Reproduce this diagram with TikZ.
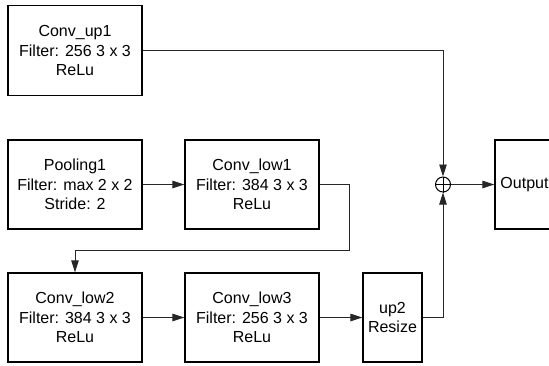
\documentclass[tikz,border=0pt]{standalone}
\usepackage{fontspec}
\setmainfont{Liberation Sans}
\usetikzlibrary{arrows.meta}
\tikzset{
  blk/.style={draw=black, line width=1.3pt, fill=white, align=center, inner sep=0pt,
    font=\fontsize{16}{19.5}\selectfont},
  conn/.style={draw=black!85, line width=0.9pt},
  arr/.style={conn, -{Triangle[length=12pt,width=7.5pt]}},
}
\begin{document}
\begin{tikzpicture}[x=1pt,y=-1pt]
\useasboundingbox (0,0) rectangle (549,365);
\clip (0,0) rectangle (549,365);
\node[blk, minimum width=134pt, minimum height=90pt] (up1) at (75,50.5) {Conv\_up1\\Filter: 256 3 x 3\\ReLu};
\node[blk, minimum width=134pt, minimum height=89pt] (pool) at (75,184.5) {Pooling1\\Filter: max 2 x 2\\Stride: 2};
\node[blk, minimum width=134pt, minimum height=89pt] (low1) at (252,184.5) {Conv\_low1\\Filter: 384 3 x 3\\ReLu};
\node[blk, minimum width=134pt, minimum height=89pt] (low2) at (75,317.5) {Conv\_low2\\Filter: 384 3 x 3\\ReLu};
\node[blk, minimum width=134pt, minimum height=89pt] (low3) at (252,317.5) {Conv\_low3\\Filter: 256 3 x 3\\ReLu};
\node[blk, minimum width=59pt, minimum height=89pt] (up2) at (392.5,317.5) {up2\\Resize};
\node[blk, minimum width=59pt, minimum height=89pt] (out) at (524.5,184.5) {Output};
\node[draw=black, line width=1pt, circle, minimum size=15pt, inner sep=0pt] (sum) at (443,184.5) {};
\draw[line width=1pt] (sum.north) -- (sum.south) (sum.west) -- (sum.east);
\coordinate (c1) at (349,250);
\draw[arr] (up1.east) -| (sum.north);
\draw[arr] (pool.east) -- (low1.west);
\draw[arr] (low1.east) -| (c1) -| (low2.north);
\draw[arr] (low2.east) -- (low3.west);
\draw[arr] (low3.east) -- (up2.west);
\draw[arr] (up2.east) -| (sum.south);
\draw[arr] (sum.east) -- (out.west);
\end{tikzpicture}
\end{document}
